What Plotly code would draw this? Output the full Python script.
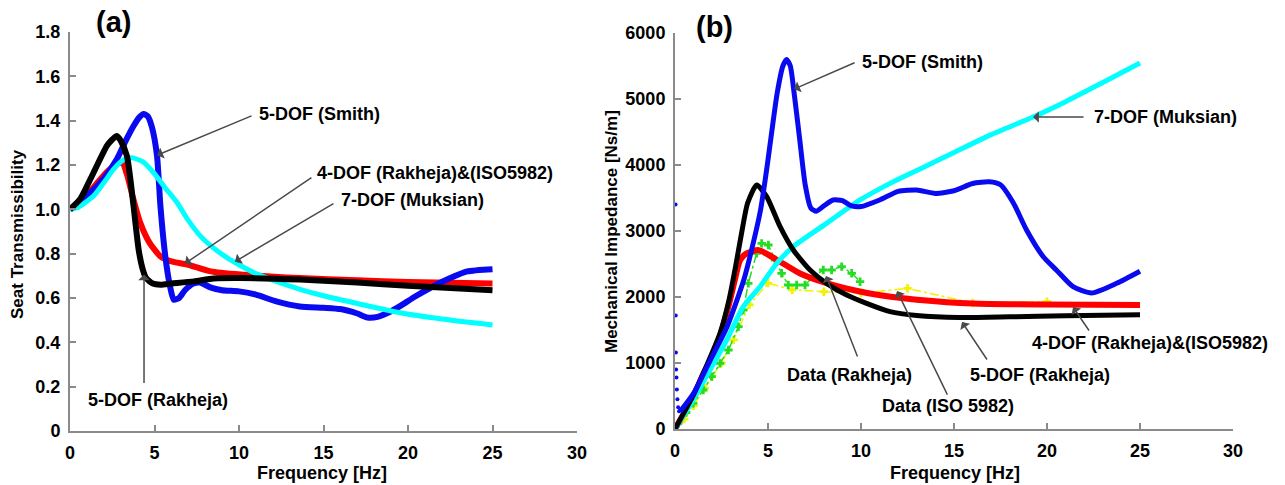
import plotly.graph_objects as go

W, H = 1285, 485

# ---------------- Panel (a): Seat transmissibility ----------------
a_smith_f = [0, 1, 2, 2.77, 3.3, 3.76, 4.1, 4.36, 4.6, 4.85, 5.15, 5.35, 5.64, 5.9, 6.14, 6.45, 6.8, 7.3, 7.7, 8.3, 9, 10, 11, 12.2, 13.6, 15, 16, 17, 17.6, 18.2, 19, 19.5, 20.5, 21.5, 22.5, 23.5, 25]
a_smith_v = [1.0, 1.06, 1.14, 1.226, 1.31, 1.376, 1.415, 1.43, 1.42, 1.37, 1.24, 1.015, 0.788, 0.66, 0.592, 0.6, 0.635, 0.665, 0.67, 0.648, 0.635, 0.63, 0.615, 0.585, 0.562, 0.556, 0.55, 0.53, 0.512, 0.515, 0.54, 0.562, 0.61, 0.653, 0.69, 0.72, 0.73]

a_rak4_f = [0, 0.6, 1.4, 2.2, 2.8, 3.1, 3.4, 3.7, 4.16, 4.7, 5.35, 6.0, 6.93, 8.32, 10.1, 13.6, 17, 20, 25]
a_rak4_v = [1.0, 1.03, 1.1, 1.17, 1.205, 1.21, 1.15, 1.06, 0.939, 0.85, 0.788, 0.765, 0.751, 0.72, 0.706, 0.69, 0.68, 0.672, 0.665]

a_rak5_f = [0, 0.59, 1.39, 2.18, 2.5, 2.77, 3.0, 3.37, 3.76, 4.06, 4.3, 4.5, 4.9, 5.35, 6.0, 7.33, 8.5, 10.1, 13.6, 17, 20, 25]
a_rak5_v = [1.0, 1.045, 1.165, 1.286, 1.315, 1.331, 1.31, 1.24, 1.015, 0.819, 0.73, 0.69, 0.665, 0.66, 0.665, 0.675, 0.688, 0.69, 0.683, 0.67, 0.655, 0.635]

a_muk_f = [0, 0.5, 1.39, 2.0, 2.57, 3.1, 3.66, 4.3, 4.95, 5.6, 6.34, 7.0, 7.72, 8.5, 9.31, 10, 11, 12, 13.66, 15, 17, 19.6, 22, 25]
a_muk_v = [1.0, 1.01, 1.06, 1.12, 1.18, 1.22, 1.233, 1.215, 1.165, 1.1, 1.03, 0.95, 0.879, 0.825, 0.781, 0.75, 0.71, 0.68, 0.638, 0.61, 0.575, 0.532, 0.505, 0.478]

# ---------------- Panel (b): Mechanical impedance ----------------
b_smith_spike_f = [0.03, 0.04, 0.05, 0.06, 0.08, 0.1, 0.13, 0.17, 0.22]
b_smith_spike_v = [3400, 1720, 1160, 900, 780, 600, 450, 330, 270]

b_smith_f = [0.27, 1.0, 1.9, 2.8, 3.7, 4.2, 4.6, 4.95, 5.2, 5.5, 5.8, 6.0, 6.2, 6.4, 6.7, 7.0, 7.3, 7.6, 8.0, 8.5, 9.0, 9.5, 10, 11, 12, 13, 14, 15, 16, 16.9, 17.5, 18.2, 18.9, 19.8, 20.5, 21.4, 22.4, 23.75, 25]
b_smith_v = [263, 540, 1045, 1550, 2260, 2810, 3320, 3975, 4500, 5100, 5500, 5600, 5500, 5100, 4400, 3700, 3350, 3300, 3380, 3470, 3460, 3380, 3370, 3470, 3600, 3620, 3570, 3610, 3720, 3745, 3700, 3420, 3015, 2610, 2410, 2156, 2060, 2207, 2390]

b_rak4_f = [0, 1.0, 1.5, 2.0, 2.5, 3.0, 3.25, 3.5, 3.85, 4.5, 5.5, 6.7, 8.15, 10, 11.6, 13, 16, 20, 25]
b_rak4_v = [0, 500, 820, 1100, 1480, 2000, 2300, 2560, 2660, 2710, 2560, 2360, 2210, 2080, 2005, 1960, 1900, 1885, 1880]

b_rak5_f = [0, 1.0, 1.52, 2.42, 2.9, 3.25, 3.6, 3.9, 4.39, 4.93, 5.65, 6.36, 7.26, 8.15, 9.23, 10.3, 11.56, 13, 15.3, 18, 21, 25]
b_rak5_v = [0, 520, 843, 1450, 1950, 2450, 3000, 3420, 3697, 3520, 3065, 2712, 2409, 2207, 2030, 1904, 1778, 1720, 1690, 1700, 1715, 1730]

b_muk_f = [0, 0.98, 1.88, 2.78, 3.67, 4.57, 5.47, 6.36, 8.15, 9.95, 11.56, 13.2, 15, 17, 19.25, 21, 23, 25]
b_muk_v = [0, 440, 894, 1348, 1853, 2156, 2510, 2763, 3116, 3470, 3722, 3945, 4190, 4460, 4727, 4960, 5250, 5545]

b_data_rak_f = [0.18, 0.6, 0.98, 1.52, 1.97, 2.42, 2.87, 3.41, 3.67, 3.94, 4.39, 4.66, 5.02, 5.38, 5.73, 6.09, 6.54, 6.99, 7.44, 7.97, 8.42, 8.96, 9.5, 9.95]
b_data_rak_v = [86, 250, 389, 591, 793, 995, 1197, 1550, 1803, 2207, 2662, 2813, 2788, 2560, 2359, 2182, 2182, 2182, 2308, 2409, 2409, 2460, 2359, 2232]

b_data_iso_f = [0.5, 1.0, 1.6, 2.0, 2.5, 3.15, 4.0, 5.0, 6.3, 8.0, 10, 12.5, 16, 20]
b_data_iso_v = [150, 350, 620, 800, 1000, 1350, 1880, 2210, 2110, 2080, 2060, 2130, 1910, 1930]

x_ticks = [0, 5, 10, 15, 20, 25, 30]
a_y_ticks = [0, 0.2, 0.4, 0.6, 0.8, 1.0, 1.2, 1.4, 1.6, 1.8]
a_y_text = ["0", "0.2", "0.4", "0.6", "0.8", "1.0", "1.2", "1.4", "1.6", "1.8"]
b_y_ticks = [0, 1000, 2000, 3000, 4000, 5000, 6000]

BLUE = "#0a0af0"
RED = "#ff0000"
BLACK = "#000000"
CYAN = "#00ffff"
GREEN = "#22dd22"
YELLOW = "#f2f200"

fig = go.Figure()

def line(x, y, color, width, xa, ya):
    fig.add_trace(go.Scatter(x=x, y=y, mode="lines", xaxis=xa, yaxis=ya,
                             line=dict(color=color, width=width, shape="spline", smoothing=0.6),
                             cliponaxis=False, showlegend=False, hoverinfo="skip"))

# panel (a)
line(a_rak4_f, a_rak4_v, RED, 6, "x", "y")
line(a_smith_f, a_smith_v, BLUE, 6, "x", "y")
line(a_muk_f, a_muk_v, CYAN, 5, "x", "y")
line(a_rak5_f, a_rak5_v, BLACK, 6, "x", "y")

# panel (b)
fig.add_trace(go.Scatter(x=b_data_iso_f, y=b_data_iso_v, mode="lines+markers", xaxis="x2", yaxis="y2",
                         line=dict(color=YELLOW, width=1.5, dash="dashdot"),
                         marker=dict(symbol="cross", size=7, color=YELLOW),
                         cliponaxis=False, showlegend=False, hoverinfo="skip"))
fig.add_trace(go.Scatter(x=b_data_rak_f, y=b_data_rak_v, mode="lines+markers", xaxis="x2", yaxis="y2",
                         line=dict(color=GREEN, width=1.5, dash="dashdot"),
                         marker=dict(symbol="cross", size=7, color=GREEN),
                         cliponaxis=False, showlegend=False, hoverinfo="skip"))
line(b_rak4_f, b_rak4_v, RED, 6, "x2", "y2")
line(b_muk_f, b_muk_v, CYAN, 5, "x2", "y2")
line(b_rak5_f, b_rak5_v, BLACK, 5, "x2", "y2")
line(b_smith_f, b_smith_v, BLUE, 5, "x2", "y2")
fig.add_trace(go.Scatter(x=b_smith_spike_f, y=b_smith_spike_v, mode="markers", xaxis="x2", yaxis="y2",
                         marker=dict(size=4, color=BLUE), cliponaxis=False,
                         showlegend=False, hoverinfo="skip"))

FONT = "Liberation Sans, Arial, sans-serif"
tickfont = dict(family=FONT, size=18, color="black", weight="bold")
axis_common = dict(showgrid=False, zeroline=False, showline=True, linecolor="#8a8a8a", linewidth=2,
                   ticks="inside", ticklen=6, tickwidth=2, tickcolor="#8a8a8a",
                   tickfont=tickfont, ticklabelstandoff=4, automargin=False)

fig.update_layout(
    width=W, height=H, margin=dict(l=0, r=0, t=0, b=0, autoexpand=False),
    paper_bgcolor="white", plot_bgcolor="white",
    xaxis=dict(domain=[70 / W, 577 / W], range=[0, 30], tickvals=x_ticks, anchor="y", **axis_common),
    yaxis=dict(domain=[1 - 431 / H, 1 - 32 / H], range=[0, 1.8], tickvals=a_y_ticks, ticktext=a_y_text,
               anchor="x", **axis_common),
    xaxis2=dict(domain=[675 / W, 1233 / W], range=[0, 30], tickvals=x_ticks, anchor="y2", **axis_common),
    yaxis2=dict(domain=[1 - 429 / H, 1 - 33 / H], range=[0, 6000], tickvals=b_y_ticks, anchor="x2",
                **axis_common),
)

annots = []

def text(px, py, s, size=18, anchor="left", angle=0):
    annots.append(dict(x=px / W, y=1 - py / H, xref="paper", yref="paper", text="<b>%s</b>" % s,
                       showarrow=False, xanchor=anchor, yanchor="middle", textangle=angle,
                       font=dict(family=FONT, size=size, color="black")))

def arrow(xa, ya, fx, vy, ax, ay):
    annots.append(dict(x=fx, y=vy, xref=xa, yref=ya, text="", showarrow=True, ax=ax, ay=ay,
                       arrowhead=1, arrowsize=1.3, arrowwidth=1.5, arrowcolor="#4a4a4a", standoff=0))

# panel labels
text(113, 22, "(a)", size=29, anchor="center")
text(714, 27, "(b)", size=29, anchor="center")

# axis titles
text(17, 234, "Seat Transmissibility", size=17, anchor="center", angle=-90)
text(611, 232, "Mechanical Impedance [Ns/m]", size=17, anchor="center", angle=-90)
text(322, 473, "Frequency [Hz]", size=18, anchor="center")
text(955, 473, "Frequency [Hz]", size=18, anchor="center")

# panel (a) annotations
text(257, 114, "5-DOF (Smith)")
arrow("x", "y", 5.15, 1.244, 96, -40)
text(315, 173, "4-DOF (Rakheja)&(ISO5982)")
arrow("x", "y", 6.8, 0.755, 128, -87)
text(339, 200, "7-DOF (Muksian)")
arrow("x", "y", 9.76, 0.764, 100, -59)
text(86, 400, "5-DOF (Rakheja)")
arrow("x", "y", 4.38, 0.706, 0, 110)

# panel (b) annotations
text(860, 62, "5-DOF (Smith)")
arrow("x2", "y2", 6.4, 5150, 62, -27)
text(1092, 117, "7-DOF (Muksian)")
arrow("x2", "y2", 19.25, 4727, 52, 0)
text(1030, 343, "4-DOF (Rakheja)&(ISO5982)")
arrow("x2", "y2", 21.4, 1848, 17, 25)
text(968, 375, "5-DOF (Rakheja)")
arrow("x2", "y2", 15.43, 1621, 26, 39)
text(880, 406, "Data (ISO 5982)")
arrow("x2", "y2", 11.94, 2090, 51, 105)
text(785, 375, "Data (Rakheja)")
arrow("x2", "y2", 8.12, 2318, 32, 82)

fig.update_layout(annotations=annots)
fig.write_html("out.html", config={"displayModeBar": False},
               post_script="document.body.style.margin='0';document.body.style.overflow='hidden';")
